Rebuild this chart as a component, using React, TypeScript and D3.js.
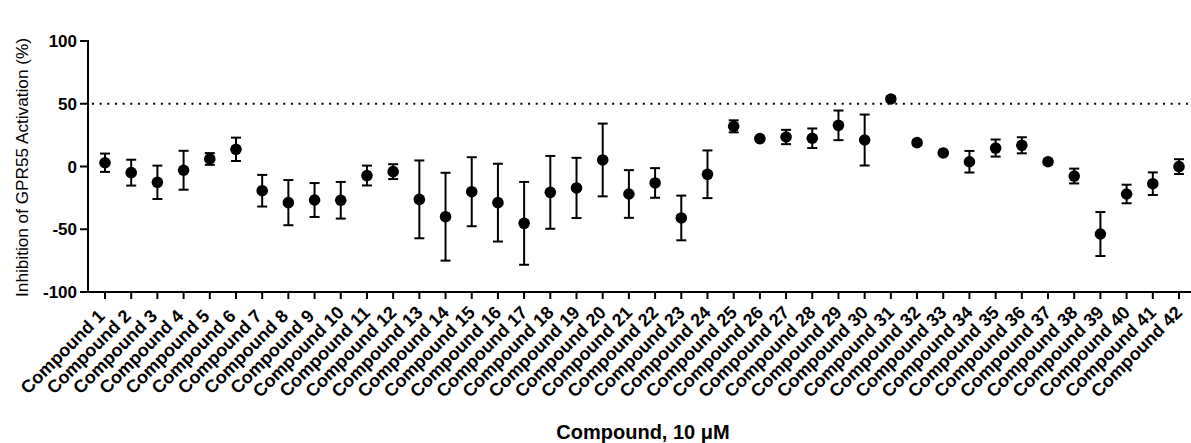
import React from "react";
import * as d3 from "d3";

// Compound labels
const categories: string[] = Array.from({ length: 42 }, (_, i) => `Compound ${i + 1}`);

// Mean inhibition (%) per compound
const means: number[] = [
  3.0, -4.9, -12.6, -3.0, 6.0, 13.7, -19.3, -28.8, -26.7, -26.9,
  -7.2, -4.1, -26.2, -40.0, -20.1, -28.8, -45.3, -20.6, -17.1, 5.2,
  -21.9, -13.1, -41.0, -6.2, 32.0, 22.2, 23.5, 22.5, 32.8, 21.1,
  53.8, 19.0, 10.8, 3.8, 14.7, 16.9, 3.8, -7.6, -53.8, -21.9,
  -13.7, -0.1,
];

// Error (SD) per compound
const errors: number[] = [
  7.3, 10.3, 13.3, 15.5, 4.7, 9.3, 12.6, 18.0, 13.5, 14.6,
  7.9, 5.9, 31.0, 35.0, 27.5, 31.0, 33.0, 29.0, 24.0, 29.0,
  19.0, 11.8, 17.8, 19.0, 4.8, 1.2, 5.7, 7.8, 11.8, 20.3,
  2.0, 2.0, 1.0, 8.6, 6.8, 6.4, 2.0, 5.9, 17.5, 7.4,
  9.0, 5.9,
];

const yTicks: number[] = [100, 50, 0, -50, -100];
const threshold = 50;

const W = 1191;
const H = 443;
const axisX = 88;
const axisRight = 1191;
const top = 41;
const bottom = 292;

const FONT = "'Liberation Sans', Arial, sans-serif";

export default function App() {
  const y = d3.scaleLinear().domain([-100, 100]).range([bottom, top]);
  const x = d3
    .scalePoint<string>()
    .domain(categories)
    .range([105, 1179]);

  return (
    <svg
      width={W}
      height={H}
      style={{ position: "absolute", left: 0, top: 0, background: "#fff" }}
      fontFamily={FONT}
    >
      {/* threshold line */}
      <line
        x1={axisX + 4}
        x2={axisRight}
        y1={y(threshold)}
        y2={y(threshold)}
        stroke="#000"
        strokeWidth={2}
        strokeDasharray="2 5.65"
      />

      {/* y axis */}
      <line x1={axisX} x2={axisX} y1={top - 1} y2={bottom + 1} stroke="#000" strokeWidth={2} />
      {yTicks.map((t) => (
        <g key={t}>
          <line x1={axisX - 8} x2={axisX} y1={y(t)} y2={y(t)} stroke="#000" strokeWidth={2} />
          <text
            x={axisX - 11}
            y={y(t)}
            dy="0.36em"
            textAnchor="end"
            fontSize={17}
            fontWeight="bold"
          >
            {t}
          </text>
        </g>
      ))}
      <text
        transform={`translate(28, ${(top + bottom) / 2 + 1}) rotate(-90)`}
        textAnchor="middle"
        fontSize={17.2}
      >
        Inhibition of GPR55 Activation (%)
      </text>

      {/* x axis */}
      <line x1={axisX - 1} x2={axisRight} y1={bottom} y2={bottom} stroke="#000" strokeWidth={2} />
      {categories.map((c) => {
        const cx = x(c)!;
        return (
          <g key={c}>
            <line x1={cx} x2={cx} y1={bottom} y2={bottom + 7} stroke="#000" strokeWidth={2} />
            <text
              transform={`translate(${cx - 38}, ${bottom + 64}) rotate(-45)`}
              textAnchor="middle"
              fontSize={18}
              fontWeight="bold"
            >
              {c}
            </text>
          </g>
        );
      })}
      <text x={643} y={439} textAnchor="middle" fontSize={20} fontWeight="bold">
        Compound, 10 μM
      </text>

      {/* error bars and means */}
      {categories.map((c, i) => {
        const cx = x(c)!;
        const m = means[i];
        const e = errors[i];
        const y1 = y(m + e);
        const y2 = y(m - e);
        return (
          <g key={c}>
            <line x1={cx} x2={cx} y1={y1} y2={y2} stroke="#000" strokeWidth={2} />
            <line x1={cx - 5} x2={cx + 5} y1={y1} y2={y1} stroke="#000" strokeWidth={2} />
            <line x1={cx - 5} x2={cx + 5} y1={y2} y2={y2} stroke="#000" strokeWidth={2} />
            <circle cx={cx} cy={y(m)} r={5.8} fill="#000" />
          </g>
        );
      })}
    </svg>
  );
}
